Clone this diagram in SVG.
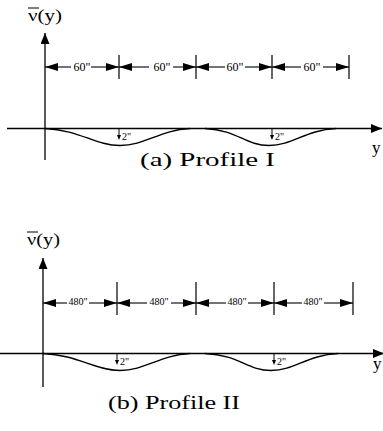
<svg xmlns="http://www.w3.org/2000/svg" width="383" height="431" viewBox="0 0 383 431">
<defs>
<style>
.ln{stroke:#000;stroke-width:1.3;fill:none}
.tk{stroke:#000;stroke-width:1.2}
.cv{stroke:#000;stroke-width:1.4;fill:none}
.t{font-family:"Liberation Serif","Times New Roman",serif;fill:#000}
.dim{stroke:#000;stroke-width:1.1;fill:none;marker-start:url(#ah);}
.dim2{stroke:#000;stroke-width:1.1;fill:none;marker-end:url(#ah);}
.sa{stroke:#000;stroke-width:1}
</style>
<marker id="ah" markerUnits="userSpaceOnUse" markerWidth="13" markerHeight="8" refX="13" refY="4" orient="auto-start-reverse"><path d="M0,0 L13,4 L0,8 z" fill="#000"/></marker>
<marker id="ax" markerUnits="userSpaceOnUse" markerWidth="11" markerHeight="9" refX="11" refY="4.5" orient="auto"><path d="M0,0 L11,4.5 L0,9 z" fill="#000"/></marker>
</defs>

<g id="profile1">
  <g id="p1-label">
    <text class="t" x="28" y="21" font-size="17" textLength="34" lengthAdjust="spacingAndGlyphs">ν(y)</text>
    <line x1="28" y1="8" x2="39" y2="8" stroke="#000" stroke-width="1"/>
  </g>
  <g id="p1-axes">
    <line class="ln" x1="45" y1="160" x2="45" y2="33" marker-end="url(#ax)"/>
    <line class="ln" x1="7" y1="128.5" x2="382" y2="128.5" marker-end="url(#ax)"/>
    <text class="t" x="372" y="153" font-size="17">y</text>
  </g>
  <g id="p1-dims">
    <line class="tk" x1="119" y1="55" x2="119" y2="79"/>
    <line class="tk" x1="196" y1="55" x2="196" y2="79"/>
    <line class="tk" x1="272" y1="55" x2="272" y2="79"/>
    <line class="tk" x1="349" y1="55" x2="349" y2="79"/>
    <line class="dim" x1="45" y1="67" x2="71" y2="67"/><line class="dim2" x1="91" y1="67" x2="119" y2="67"/>
    <line class="dim" x1="119" y1="67" x2="149" y2="67"/><line class="dim2" x1="173" y1="67" x2="196" y2="67"/>
    <line class="dim" x1="196" y1="67" x2="225" y2="67"/><line class="dim2" x1="245" y1="67" x2="272" y2="67"/>
    <line class="dim" x1="272" y1="67" x2="301" y2="67"/><line class="dim2" x1="323" y1="67" x2="349" y2="67"/>
    <text class="t" x="82" y="71" font-size="12" text-anchor="middle">60"</text>
    <text class="t" x="162" y="71" font-size="12" text-anchor="middle">60"</text>
    <text class="t" x="235" y="71" font-size="12" text-anchor="middle">60"</text>
    <text class="t" x="312" y="71" font-size="12" text-anchor="middle">60"</text>
  </g>
  <g id="p1-curve">
    <path class="cv" d="M45,128.5 C80,130 95,145.5 120,145.5 C145,145.5 160,130 190,128.5"/>
    <path class="cv" d="M205,128.5 C238,130 245,145.5 269,145.5 C293,145.5 305,130 336,128.5"/>
    <line class="sa" x1="119" y1="129" x2="119" y2="136"/><path d="M117,135 L121,135 L119,140 z"/>
    <text class="t" x="122" y="140" font-size="10">2"</text>
    <line class="sa" x1="272" y1="129" x2="272" y2="136"/><path d="M270,135 L274,135 L272,140 z"/>
    <text class="t" x="275" y="140" font-size="10">2"</text>
  </g>
  <g id="p1-caption">
    <text class="t" x="140" y="166" font-size="19" textLength="135" lengthAdjust="spacingAndGlyphs">(a)  Profile I</text>
  </g>
</g>

<g id="profile2">
  <g id="p2-label">
    <text class="t" x="27" y="245" font-size="17" textLength="33" lengthAdjust="spacingAndGlyphs">ν(y)</text>
    <line x1="27" y1="232" x2="38" y2="232" stroke="#000" stroke-width="1"/>
  </g>
  <g id="p2-axes">
    <line class="ln" x1="43" y1="387" x2="43" y2="258" marker-end="url(#ax)"/>
    <line class="ln" x1="0" y1="353.5" x2="384" y2="353.5" marker-end="url(#ax)"/>
    <text class="t" x="373" y="369" font-size="17">y</text>
  </g>
  <g id="p2-dims">
    <line class="tk" x1="117" y1="282" x2="117" y2="315"/>
    <line class="tk" x1="196" y1="282" x2="196" y2="315"/>
    <line class="tk" x1="274" y1="282" x2="274" y2="315"/>
    <line class="tk" x1="353" y1="282" x2="353" y2="315"/>
    <line class="dim" x1="43" y1="303" x2="67" y2="303"/><line class="dim2" x1="89" y1="303" x2="117" y2="303"/>
    <line class="dim" x1="117" y1="303" x2="147" y2="303"/><line class="dim2" x1="171" y1="303" x2="196" y2="303"/>
    <line class="dim" x1="196" y1="303" x2="226" y2="303"/><line class="dim2" x1="248" y1="303" x2="274" y2="303"/>
    <line class="dim" x1="274" y1="303" x2="302" y2="303"/><line class="dim2" x1="324" y1="303" x2="353" y2="303"/>
    <text class="t" x="78" y="305" font-size="10" text-anchor="middle">480"</text>
    <text class="t" x="159" y="305" font-size="10" text-anchor="middle">480"</text>
    <text class="t" x="237" y="305" font-size="10" text-anchor="middle">480"</text>
    <text class="t" x="313" y="305" font-size="10" text-anchor="middle">480"</text>
  </g>
  <g id="p2-curve">
    <path class="cv" d="M43,353.5 C78,355 95,370.5 120,370.5 C145,370.5 160,355 190,353.5"/>
    <path class="cv" d="M205,353.5 C240,355 247,370.5 271,370.5 C295,370.5 307,355 338,353.5"/>
    <line class="sa" x1="117" y1="354" x2="117" y2="361"/><path d="M115,360 L119,360 L117,365 z"/>
    <text class="t" x="120" y="365" font-size="10">2"</text>
    <line class="sa" x1="274" y1="354" x2="274" y2="361"/><path d="M272,360 L276,360 L274,365 z"/>
    <text class="t" x="277" y="365" font-size="10">2"</text>
  </g>
  <g id="p2-caption">
    <text class="t" x="108" y="409" font-size="19" textLength="132" lengthAdjust="spacingAndGlyphs">(b) Profile II</text>
  </g>
</g>
</svg>
